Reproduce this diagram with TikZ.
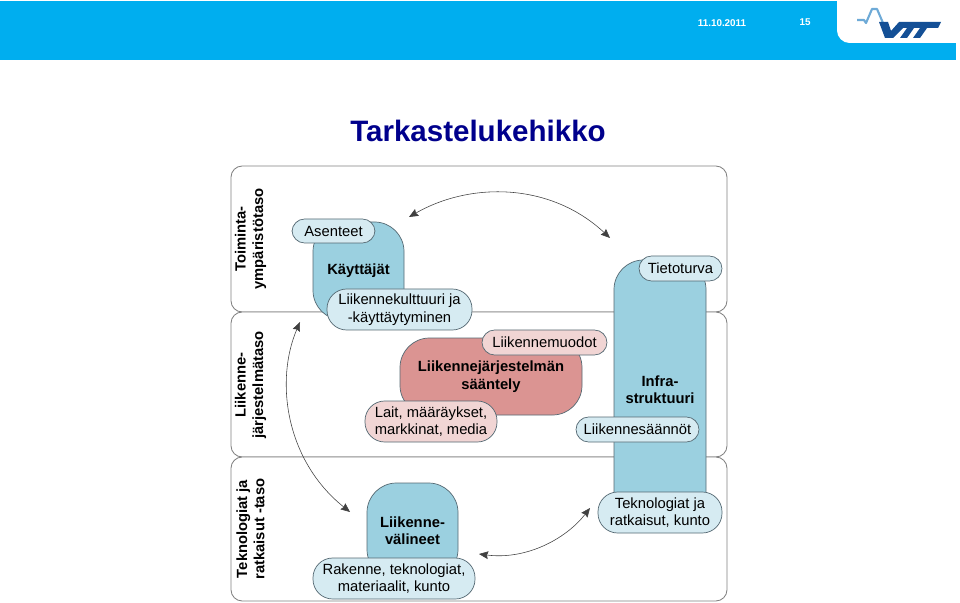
\documentclass[tikz,border=0pt]{standalone}
\usepackage{fontspec}
\setmainfont{Liberation Sans}
\usetikzlibrary{arrows.meta}
\definecolor{vttblue}{RGB}{0,174,239}
\definecolor{vttdark}{RGB}{20,80,150}
\definecolor{vttlight}{RGB}{110,170,215}
\definecolor{titleblue}{RGB}{0,0,140}
\definecolor{bluebox}{RGB}{155,208,224}
\definecolor{bluepill}{RGB}{214,235,242}
\definecolor{redbox}{RGB}{219,148,146}
\definecolor{redpill}{RGB}{241,213,212}
\definecolor{edgegray}{RGB}{85,105,115}
\tikzset{
  panel/.style={draw=black!50,line width=.6pt,rounded corners=8pt,fill=white},
  levellabel/.style={rotate=90,font=\fontsize{10.5}{12.4}\selectfont\bfseries,align=center,inner sep=0pt},
  mainbox/.style={draw=edgegray,line width=.5pt,rounded corners=21pt,font=\fontsize{10.5}{12.4}\selectfont\bfseries,align=center,inner sep=0pt},
  pill/.style={draw=edgegray,line width=.5pt,rounded corners=9pt,font=\fontsize{10.5}{12.4}\selectfont,align=center,inner sep=0pt},
  bigpill/.style={pill,rounded corners=14pt},
  linkarrow/.style={draw=black!75,line width=.4pt,<->,>={Stealth[length=6.5pt,width=5.5pt,inset=.8pt]}},
}
\begin{document}
\begin{tikzpicture}[x=.025cm,y=-.025cm]
  \useasboundingbox (0,0) rectangle (960,603);
  % header
  \fill[vttblue] (0,1) rectangle (956,60);
  \fill[white] (837,1) [rounded corners=9pt]--(837,43) [sharp corners]--(956,43)--(956,1)--cycle;
  \node[text=white,font=\fontsize{7}{8}\selectfont\bfseries] (date) at (722,23) {11.10.2011};
  \node[text=white,font=\fontsize{7}{8}\selectfont\bfseries] (pagenr) at (805,22) {15};
  % logo
  \draw[vttlight,line width=1.5pt,line join=round] (857,20)--(864,20)--(866,23)--(872,9)--(877,9)--(883,23);
  \fill[vttdark] (879,22)--(888,22)--(891,31)--(899,22)--(941,22)--(938,28)--(927,28)--(920,38)--(913,38)--(920,28)--(914,28)--(907,38)--(900,38)--(907,28)--(903,28)--(893,38)--(885,38)--cycle;
  % title
  \node[text=titleblue,font=\fontsize{21}{25}\selectfont\bfseries] (title) at (478,131) {Tarkastelukehikko};
  % panels
  \draw[panel] (231,166) rectangle (727,312);
  \draw[panel] (231,312) rectangle (727,457);
  \draw[panel] (231,457) rectangle (727,601);
  \node[levellabel] (env) at (250.5,239) {Toiminta-\\ympäristötaso};
  \node[levellabel] (sys) at (250.5,385) {Liikenne-\\järjestelmätaso};
  \node[levellabel] (tech) at (250.5,529) {Teknologiat ja\\ratkaisut -taso};
  % users
  \node[mainbox,fill=bluebox,minimum width=91*.025cm,minimum height=98*.025cm] (users) at (358.5,271) {Käyttäjät};
  \node[pill,fill=bluepill,minimum width=83*.025cm,minimum height=24*.025cm] (attitudes) at (333.5,231) {Asenteet};
  \node[bigpill,fill=bluepill,minimum width=145*.025cm,minimum height=41*.025cm] (culture) at (399.5,309.5) {Liikennekulttuuri ja\\-käyttäytyminen};
  % regulation
  \node[mainbox,fill=redbox,minimum width=182*.025cm,minimum height=77*.025cm] (regulation) at (491,376.5) {Liikennejärjestelmän\\sääntely};
  \node[pill,fill=redpill,minimum width=125*.025cm,minimum height=25*.025cm] (modes) at (544.5,342.5) {Liikennemuodot};
  \node[bigpill,fill=redpill,minimum width=132*.025cm,minimum height=41*.025cm] (laws) at (431,421.5) {Lait, määräykset,\\markkinat, media};
  % infrastructure
  \node[mainbox,fill=bluebox,minimum width=92*.025cm,minimum height=260*.025cm] (infra) at (660,390) {Infra-\\struktuuri};
  \node[pill,fill=bluepill,minimum width=83*.025cm,minimum height=25*.025cm] (security) at (680.5,268.5) {Tietoturva};
  \node[pill,fill=bluepill,minimum width=123*.025cm,minimum height=25*.025cm] (rules) at (637.5,429.5) {Liikennesäännöt};
  \node[bigpill,fill=bluepill,minimum width=124*.025cm,minimum height=41*.025cm] (solutions) at (660,512.5) {Teknologiat ja\\ratkaisut, kunto};
  % vehicles
  \node[mainbox,fill=bluebox,minimum width=91*.025cm,minimum height=96*.025cm] (vehicles) at (412.5,531) {Liikenne-\\välineet};
  \node[bigpill,fill=bluepill,minimum width=162*.025cm,minimum height=41*.025cm] (structure) at (394,578.5) {Rakenne, teknologiat,\\materiaalit, kunto};
  % links
  \coordinate (usersend) at (409,217);
  \coordinate (infraend) at (610,238);
  \coordinate (usersdown) at (300,322);
  \coordinate (vehiclesup) at (350,512);
  \coordinate (vehiclesright) at (479,554);
  \coordinate (solutionsleft) at (590,508);
  \draw[linkarrow] (usersend) .. controls (470,182) and (550,182) .. (infraend);
  \draw[linkarrow] (usersdown) .. controls (275,380) and (285,460) .. (vehiclesup);
  \draw[linkarrow] (vehiclesright) .. controls (525,560) and (565,540) .. (solutionsleft);
\end{tikzpicture}
\end{document}
